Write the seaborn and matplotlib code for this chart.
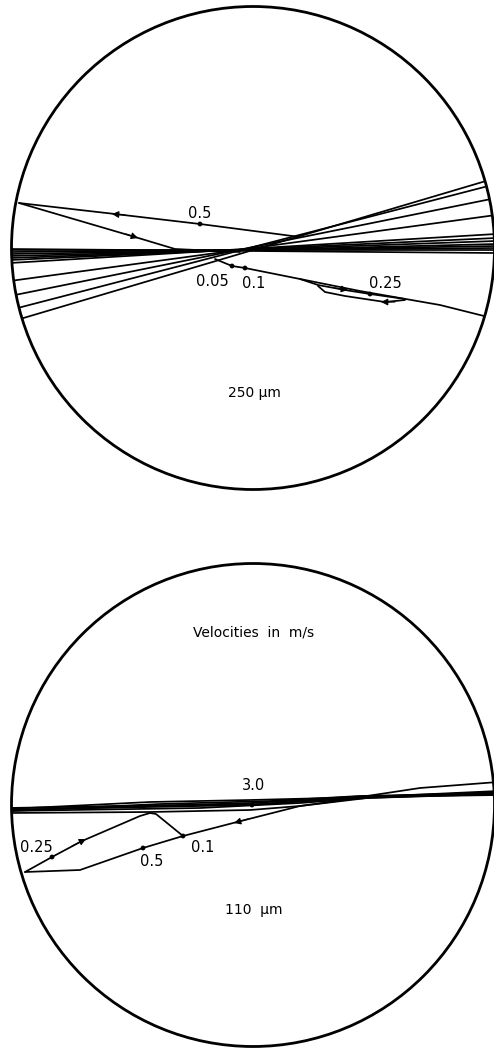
import numpy as np
import pandas as pd
import seaborn as sns
import matplotlib
matplotlib.use("Agg")
import matplotlib.pyplot as plt
from matplotlib.patches import Circle

sns.set_theme(style="white")
plt.rcParams['font.family'] = ['DejaVu Sans']
plt.rcParams['text.color'] = 'black'

# ---------------- data (image pixel coordinates) ----------------
# Top panel: 250 um particle, fan of trajectories
top_fan_left_y = [322, 310, 296, 281, 263, 260, 258, 256, 254, 252, 250, 249]
top_fan_right_y = [178, 184, 198, 215, 234, 238, 241, 244, 246, 248, 250, 253]
top_fan_left_x = 10
top_fan_right_x = 496

top_upper_x = [19, 115, 200, 300]
top_upper_y = [203, 214, 224, 237]
top_down_x = [19, 135, 175, 240]
top_down_y = [203, 237, 249, 252]
top_traj_x = [215, 232, 245, 300, 318, 345, 370, 405]
top_traj_y = [259, 266, 268, 279, 285, 290, 294, 299]
top_back_x = [405, 385, 345, 325, 318]
top_back_y = [300, 302, 296, 292, 286]
top_long_x = [300, 360, 400, 440, 496]
top_long_y = [279, 291, 298, 305, 319]

top_dots_x = [200, 232, 245, 370]
top_dots_y = [224, 266, 268, 294]
top_labels = ["0.5", "0.05", "0.1", "0.25"]

# Bottom panel: 110 um particle
bot_bundle = [
    ([8, 150, 250, 330, 367, 420, 498], [809, 802, 800, 798, 796, 788, 782]),
    ([8, 150, 250, 367, 498], [810, 806, 803, 797, 791]),
    ([8, 200, 300, 367, 498], [811, 808, 803, 798, 793]),
    ([8, 150, 250, 300, 367, 498], [813, 812, 810, 806, 798, 794]),
    ([8, 100, 250, 367, 498], [810, 808, 805, 797, 792]),
    ([8, 120, 260, 367, 498], [808, 806, 804, 797, 795]),
    ([8, 160, 270, 360, 498], [811, 804, 801, 796, 793]),
]
bot_lower_x = [25, 80, 143, 183, 237, 300, 367, 498]
bot_lower_y = [872, 870, 848, 836, 822, 806, 797, 793]
bot_upper_x = [25, 52, 82, 140, 150, 156, 183]
bot_upper_y = [872, 857, 841, 816, 813, 814, 836]

bot_dots_x = [52, 143, 183, 252]
bot_dots_y = [857, 848, 836, 805]
bot_labels = ["0.25", "0.5", "0.1", "3.0"]

# ---------------- build tracks ----------------
rows = []
def add(name, xs, ys):
    for x, y in zip(xs, ys):
        rows.append((name, x, y))

for i, (yl, yr) in enumerate(zip(top_fan_left_y, top_fan_right_y)):
    add(f"fan{i}", [top_fan_left_x, top_fan_right_x], [yl, yr])
add("tu", top_upper_x, top_upper_y)
add("td", top_down_x, top_down_y)
add("tt", top_traj_x, top_traj_y)
add("tb", top_back_x, top_back_y)
add("tl", top_long_x, top_long_y)
top_df = pd.DataFrame(rows, columns=["track", "x", "y"])

rows = []
for i, (xs, ys) in enumerate(bot_bundle):
    add(f"b{i}", xs, ys)
add("bl", bot_lower_x, bot_lower_y)
add("bu", bot_upper_x, bot_upper_y)
bot_df = pd.DataFrame(rows, columns=["track", "x", "y"])

# ---------------- figure ----------------
fig = plt.figure(figsize=(4.94, 10.48), dpi=100)
ax = fig.add_axes([0, 0, 1, 1])
ax.set_xlim(0, 494)
ax.set_ylim(1048, 0)
ax.axis("off")

c_top = Circle((253, 248), 241.5, fill=False, lw=2.0, ec="black", zorder=5)
c_bot = Circle((253, 805), 241.5, fill=False, lw=2.0, ec="black", zorder=5)
ax.add_patch(c_top)
ax.add_patch(c_bot)

n0 = len(ax.lines)
sns.lineplot(data=top_df, x="x", y="y", units="track", estimator=None, sort=False,
             color="black", lw=1.25, ax=ax, legend=False)
for ln in ax.lines[n0:]:
    ln.set_clip_path(c_top)
n1 = len(ax.lines)
sns.lineplot(data=bot_df, x="x", y="y", units="track", estimator=None, sort=False,
             color="black", lw=1.25, ax=ax, legend=False)
for ln in ax.lines[n1:]:
    ln.set_clip_path(c_bot)
ax.set_xlim(0, 494)
ax.set_ylim(1048, 0)
ax.set_xlabel("")
ax.set_ylabel("")

# dots
sns.scatterplot(x=top_dots_x + bot_dots_x, y=top_dots_y + bot_dots_y, color="black",
                s=12, ax=ax, legend=False, zorder=6, edgecolor="none")

# arrows (direction of motion)
def arrow(x0, y0, x1, y1):
    ax.annotate("", xy=(x1, y1), xytext=(x0, y0),
                arrowprops=dict(arrowstyle="-|>", mutation_scale=10, color="black", lw=0.8,
                                shrinkA=0, shrinkB=0))

arrow(125, 215, 112, 214)
arrow(126, 234, 138, 238)
arrow(335, 288, 348, 290)
arrow(395, 302, 381, 302)
arrow(72, 846, 86, 839)
arrow(248, 819, 234, 823)

fs = 10.5
kw = dict(ha="center", va="center", color="black")
# top labels
ax.text(200, 213, top_labels[0], fontsize=fs, **kw)
ax.text(212, 281, top_labels[1], fontsize=fs, **kw)
ax.text(254, 283, top_labels[2], fontsize=fs, **kw)
ax.text(385, 283, top_labels[3], fontsize=fs, **kw)
ax.text(254, 393, "250 μm", fontsize=10, **kw)

# bottom labels
ax.text(36, 848, bot_labels[0], fontsize=fs, **kw)
ax.text(152, 862, bot_labels[1], fontsize=fs, **kw)
ax.text(203, 848, bot_labels[2], fontsize=fs, **kw)
ax.text(254, 786, bot_labels[3], fontsize=fs, **kw)
ax.text(254, 632, "Velocities  in  m/s", fontsize=10, **kw)
ax.text(254, 910, "110  μm", fontsize=10, **kw)

fig.savefig("out.png", dpi=100, facecolor="white")
